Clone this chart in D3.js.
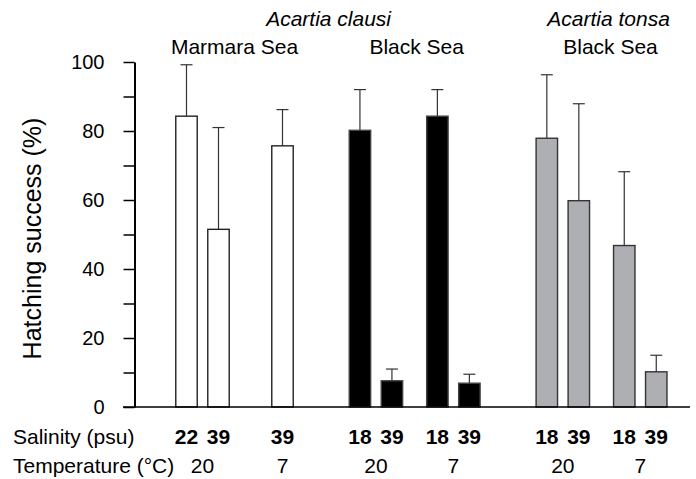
<!DOCTYPE html>
<html>
<head>
<meta charset="utf-8">
<script src="https://cdn.jsdelivr.net/npm/d3@7/dist/d3.min.js"></script>
<style>
  html, body { margin: 0; padding: 0; background: #fff; }
  svg { display: block; font-family: "Liberation Sans", Arial, Helvetica, sans-serif; }
</style>
</head>
<body>
<svg id="chart" width="696" height="479"></svg>
<script>
// ---- Data ----
const speciesNames = ["Acartia clausi", "Acartia tonsa"];
const regionNames = ["Marmara Sea", "Black Sea", "Black Sea"];
const regionSpecies = [0, 0, 1];            // species index of each region group
const groupStyle = ["white", "black", "gray"];

// one entry per bar
const barGroup = [0, 0, 0, 1, 1, 1, 1, 2, 2, 2, 2];
const barTemperature = [20, 20, 7, 20, 20, 7, 7, 20, 20, 7, 7];
const barSalinity = ["22", "39", "39", "18", "39", "18", "39", "18", "39", "18", "39"];
const hatchingMean = [84.3, 51.5, 75.7, 80.2, 7.6, 84.3, 6.9, 77.9, 59.8, 46.8, 10.2];
const hatchingSD = [14.9, 29.5, 10.5, 11.8, 3.4, 7.7, 2.6, 18.4, 28.1, 21.4, 4.8];

const yTicks = [0, 10, 20, 30, 40, 50, 60, 70, 80, 90, 100];
const yTickLabels = ["0", "", "20", "", "40", "", "60", "", "80", "", "100"];
const rowLabels = ["Salinity (psu)", "Temperature (°C)"];

// ---- Layout ----
const svg = d3.select("#chart");
const fills = { white: "#ffffff", black: "#000000", gray: "#aeafb3" };
const strokes = { white: "#222222", black: "#444444", gray: "#333333" };

// slot positions derived from grouping structure
const slots = [];
let s = 0;
barGroup.forEach((g, i) => {
  if (i > 0) {
    const pg = barGroup[i - 1], pt = barTemperature[i - 1];
    if (g !== pg) s += 2.42;
    else if (barTemperature[i] !== pt) {
      const single = barGroup.filter((gg, j) => gg === g && barTemperature[j] === barTemperature[i]).length === 1;
      s += single ? 2.0 : 1.42;
    } else s += 1;
  }
  slots.push(s);
});

const x = d3.scaleLinear().domain([0, 1]).range([186.5, 218.5]);
const y = d3.scaleLinear().domain([0, 100]).range([407, 62]);
const barW = x(0.67) - x(0);

const bars = barGroup.map((g, i) => ({
  g, t: barTemperature[i], sal: barSalinity[i], v: hatchingMean[i], sd: hatchingSD[i], slot: slots[i]
}));

// Y axis
const yAxis = d3.axisLeft(y)
  .tickValues(yTicks)
  .tickFormat((d, i) => yTickLabels[i])
  .tickSize(11)
  .tickSizeOuter(0)
  .tickPadding(19);
const gy = svg.append("g").attr("transform", "translate(134.5,0)").call(yAxis);
gy.select(".domain").attr("stroke", "#000").attr("stroke-width", 2);
gy.selectAll(".tick line").attr("stroke", "#000").attr("stroke-width", 1.5);
gy.selectAll(".tick text")
  .attr("fill", "#000")
  .style("font-size", "20px")
  .style("font-family", "'Liberation Sans', Arial, sans-serif");

// Y axis title
svg.append("text")
  .attr("transform", `translate(41,${(y(0) + y(100)) / 2 + 4}) rotate(-90)`)
  .attr("text-anchor", "middle")
  .style("font-size", "25px")
  .text("Hatching success (%)");

// Bars
svg.append("g").selectAll("rect").data(bars).join("rect")
  .attr("x", d => x(d.slot) - barW / 2)
  .attr("y", d => y(d.v))
  .attr("width", barW)
  .attr("height", d => y(0) - y(d.v))
  .attr("fill", d => fills[groupStyle[d.g]])
  .attr("stroke", d => strokes[groupStyle[d.g]])
  .attr("stroke-width", 1.4);

// Error bars (upper only)
const eb = svg.append("g").attr("stroke", "#333").attr("stroke-width", 1.2);
eb.selectAll("line.v").data(bars).join("line").attr("class", "v")
  .attr("x1", d => x(d.slot)).attr("x2", d => x(d.slot))
  .attr("y1", d => y(d.v)).attr("y2", d => y(d.v + d.sd));
eb.selectAll("line.c").data(bars).join("line").attr("class", "c")
  .attr("x1", d => x(d.slot) - 6).attr("x2", d => x(d.slot) + 6)
  .attr("y1", d => y(d.v + d.sd)).attr("y2", d => y(d.v + d.sd));

// Baseline
svg.append("line")
  .attr("x1", 123).attr("x2", 690)
  .attr("y1", y(0)).attr("y2", y(0))
  .attr("stroke", "#000").attr("stroke-width", 1.6);

// Salinity labels
svg.append("g").selectAll("text").data(bars).join("text")
  .attr("x", d => x(d.slot))
  .attr("y", 444)
  .attr("text-anchor", "middle")
  .style("font-size", "21px")
  .style("font-weight", "bold")
  .text(d => d.sal);

// Temperature labels (centred on each temperature set)
const tempSets = d3.groups(bars, d => d.g + "_" + d.t).map(([k, arr]) => ({
  t: arr[0].t, cx: d3.mean(arr, d => x(d.slot))
}));
svg.append("g").selectAll("text").data(tempSets).join("text")
  .attr("x", d => d.cx)
  .attr("y", 473)
  .attr("text-anchor", "middle")
  .style("font-size", "21px")
  .text(d => d.t);

// Row labels
svg.append("g").selectAll("text").data(rowLabels).join("text")
  .attr("x", 13)
  .attr("y", (d, i) => i === 0 ? 444 : 473)
  .style("font-size", "21px")
  .text(d => d);

// Group (region) labels
const groupCenters = regionNames.map((r, gi) => {
  const xs = bars.filter(b => b.g === gi).map(b => x(b.slot));
  return (d3.min(xs) + d3.max(xs)) / 2;
});
const regionDx = [0, 2, 9];
svg.append("g").selectAll("text").data(regionNames).join("text")
  .attr("x", (d, i) => groupCenters[i] + regionDx[i])
  .attr("y", 54)
  .attr("text-anchor", "middle")
  .style("font-size", "21px")
  .text(d => d);

// Species labels
const speciesCenters = speciesNames.map((sp, si) => {
  const cs = groupCenters.filter((c, gi) => regionSpecies[gi] === si);
  return d3.mean(cs);
});
const speciesDx = [4, 7];
svg.append("g").selectAll("text").data(speciesNames).join("text")
  .attr("x", (d, i) => speciesCenters[i] + speciesDx[i])
  .attr("y", 26)
  .attr("text-anchor", "middle")
  .style("font-size", "21px")
  .style("font-style", "italic")
  .text(d => d);
</script>
</body>
</html>
